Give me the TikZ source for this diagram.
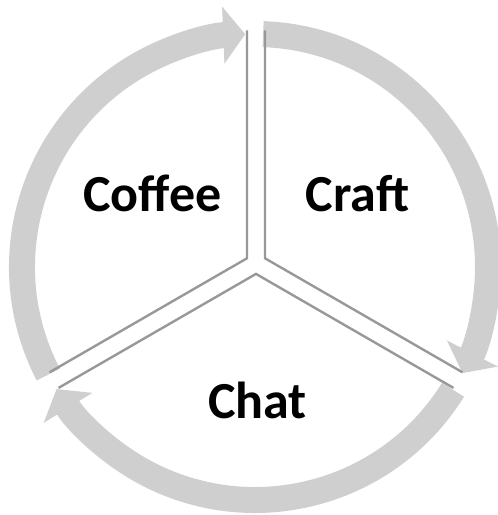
\documentclass[tikz,border=0pt]{standalone}
\usepackage{fontspec}
\setmainfont{Carlito}
\usetikzlibrary{arrows.meta,calc}
\definecolor{ringgray}{RGB}{207,207,207}
\definecolor{linegray}{RGB}{152,152,152}

\begin{document}
\begin{tikzpicture}[
    x=0.025cm, y=0.025cm,
    ring/.style={draw=ringgray, line width=0.65cm, -{Triangle[width=1.4cm, length=0.55cm]}},
    divider/.style={draw=linegray, line width=0.06cm},
    label/.style={font=\fontsize{37}{44}\selectfont\bfseries, anchor=base, inner sep=0pt}
]
    \useasboundingbox (0,0) rectangle (498,515);
    \coordinate (c) at (255,248);    % centre of the ring
    \coordinate (d) at (256,251.5);  % centre of the dividers

    % Cycle arrows
    \draw[ring] ($(c)+(207.5:233)$) arc[start angle=207.5, end angle=92.4, radius=233];
    \draw[ring] ($(c)+(88:233)$) arc[start angle=88, end angle=-27.1, radius=233];
    \draw[ring] ($(c)+(-31.8:233)$) arc[start angle=-31.8, end angle=-148.4, radius=233];

    % Dividers
    \coordinate (ul) at ($(d)+(150:10.4)$);
    \coordinate (ur) at ($(d)+(30:10.4)$);
    \coordinate (lo) at ($(d)+(270:10.4)$);
    \coordinate (ul-top) at ($(ul)+(90:228)$);
    \coordinate (ul-end) at ($(ul)+(210:228)$);
    \coordinate (ur-top) at ($(ur)+(90:228)$);
    \coordinate (ur-end) at ($(ur)+(330:228)$);
    \coordinate (lo-left) at ($(lo)+(210:228)$);
    \coordinate (lo-right) at ($(lo)+(330:228)$);

    \draw[divider] (ul-top) -- (ul) -- (ul-end);
    \draw[divider] (ur-top) -- (ur) -- (ur-end);
    \draw[divider] (lo-left) -- (lo) -- (lo-right);

    \node[label] (coffee) at (152.5,303) {Coffee};
    \node[label] (craft) at (357.5,303) {Craft};
    \node[label] (chat) at (257.5,97) {Chat};
\end{tikzpicture}
\end{document}
